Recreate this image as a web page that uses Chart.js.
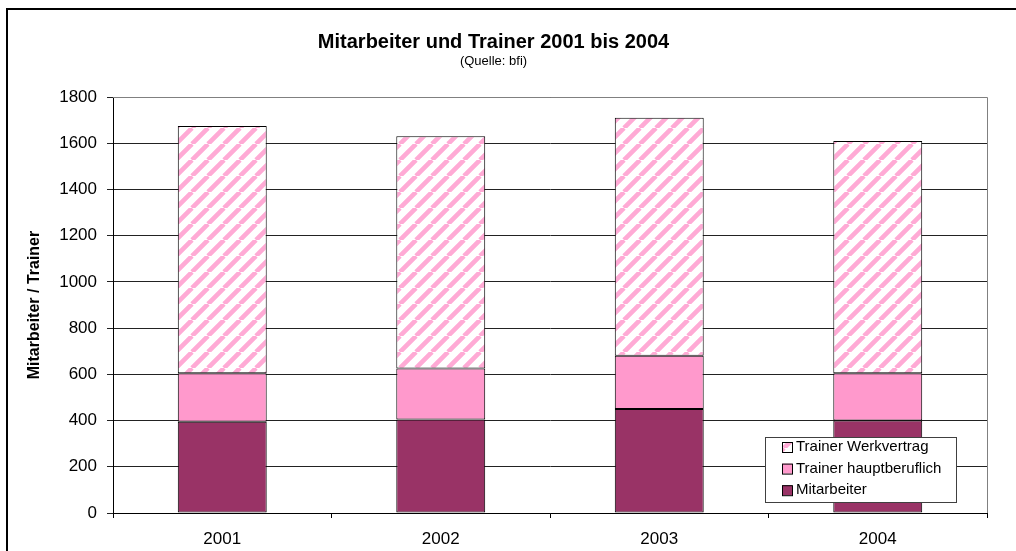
<!DOCTYPE html>
<html>
<head>
  <meta charset="utf-8">
  <title>Mitarbeiter und Trainer</title>
  <script src="https://cdn.jsdelivr.net/npm/chart.js"></script>
  <style>
    html, body { margin: 0; padding: 0; background: #fff; }
    #wrap { width: 1016px; height: 551px; }
  </style>
</head>
<body>
<div id="wrap"><canvas id="chart" width="1016" height="551"></canvas></div>

<script>
// values
var years = ['2001', '2002', '2003', '2004'];
var mitarbeiter = [395, 405, 450, 400];
var trainerHaupt = [210, 220, 230, 205];
var trainerWerk = [1070, 1005, 1030, 1005];
var yTicks = [0, 200, 400, 600, 800, 1000, 1200, 1400, 1600, 1800];

var FONT = "Arial, 'Liberation Sans', sans-serif";

// diagonal pink hatch like excel's "wide upward diagonal"
function hatch() {
  var s = 16;
  var c = document.createElement('canvas');
  c.width = s; c.height = s;
  var g = c.getContext('2d');
  g.fillStyle = '#ffffff';
  g.fillRect(0, 0, s, s);
  g.strokeStyle = '#ffaad5';
  g.lineWidth = 4.6;
  g.beginPath();
  for (var k = -1; k <= 1; k++) {
    g.moveTo(k * s, s);
    g.lineTo(k * s + s, 0);
  }
  g.stroke();
  return g.createPattern(c, 'repeat');
}
var hatchFill = hatch();

// white bg, outer frame, grey plot frame
var frame = {
  id: 'frame',
  beforeDraw: function(chart) {
    var ctx = chart.ctx;
    ctx.save();
    ctx.fillStyle = '#fff';
    ctx.fillRect(0, 0, chart.width, chart.height);
    ctx.strokeStyle = '#000';
    ctx.lineWidth = 2;
    ctx.strokeRect(7, 9, chart.width + 20, chart.height + 20);
    ctx.restore();
  },
  beforeDatasetsDraw: function(chart) {
    var a = chart.chartArea, ctx = chart.ctx;
    ctx.save();
    ctx.strokeStyle = '#808080';
    ctx.lineWidth = 1;
    ctx.beginPath();
    ctx.moveTo(a.left, a.top + 0.5);
    ctx.lineTo(a.right + 0.5, a.top + 0.5);
    ctx.lineTo(a.right + 0.5, a.bottom);
    ctx.stroke();
    ctx.restore();
  }
};

// legend box in the lower right of the plot, reversed order like excel
var boxLegend = {
  id: 'boxLegend',
  afterDatasetsDraw: function(chart) {
    var a = chart.chartArea, ctx = chart.ctx;
    var x = a.right - 222, y = a.bottom - 76, w = 191, h = 65;
    ctx.save();
    ctx.fillStyle = '#fff';
    ctx.fillRect(x, y, w, h);
    ctx.strokeStyle = '#404040';
    ctx.lineWidth = 1;
    ctx.strokeRect(x + 0.5, y + 0.5, w, h);
    ctx.font = '15px ' + FONT;
    ctx.textBaseline = 'middle';
    var ds = chart.data.datasets.slice().reverse();
    ds.forEach(function(d, i) {
      var cy = y + 10 + i * 21.6;
      ctx.fillStyle = d.backgroundColor;
      ctx.fillRect(x + 17, cy - 5, 10, 10);
      ctx.strokeStyle = '#000';
      ctx.strokeRect(x + 17.5, cy - 4.5, 10, 10);
      ctx.fillStyle = '#000';
      ctx.fillText(d.label, x + 31, cy);
    });
    ctx.restore();
  }
};

var chart = new Chart(document.getElementById('chart'), {
  type: 'bar',
  data: {
    labels: years,
    datasets: [
      { label: 'Mitarbeiter', data: mitarbeiter, backgroundColor: '#993366' },
      { label: 'Trainer hauptberuflich', data: trainerHaupt, backgroundColor: '#ff99cc' },
      { label: 'Trainer Werkvertrag', data: trainerWerk, backgroundColor: hatchFill }
    ]
  },
  options: {
    responsive: false,
    animation: false,
    layout: { padding: { left: 0, right: 29, top: 0, bottom: 0 } },
    datasets: {
      bar: {
        borderColor: '#000',
        borderWidth: 1,
        borderSkipped: false,
        categoryPercentage: 1,
        barPercentage: 0.407
      }
    },
    plugins: {
      legend: { display: false },
      tooltip: { enabled: false },
      title: {
        display: true,
        text: 'Mitarbeiter und Trainer 2001 bis 2004',
        color: '#000',
        font: { family: FONT, size: 20, weight: 'bold' },
        padding: { top: 30, bottom: 0 }
      },
      subtitle: {
        display: true,
        text: '(Quelle: bfi)',
        color: '#000',
        font: { family: FONT, size: 13 },
        padding: { top: 0, bottom: 27.4 }
      }
    },
    scales: {
      x: {
        stacked: true,
        offset: true,
        grid: { display: true, drawOnChartArea: false, offset: true, color: '#000', tickLength: 5 },
        border: { color: '#000' },
        ticks: { color: '#000', font: { family: FONT, size: 17 }, padding: 11 },
        afterFit: function(s) { s.height = 38; }
      },
      y: {
        stacked: true,
        min: 0,
        max: 1800,
        afterBuildTicks: function(s) { s.ticks = yTicks.map(function(v) { return { value: v }; }); },
        grid: { color: '#222', tickLength: 6 },
        border: { color: '#000' },
        ticks: {
          color: '#000',
          font: { family: FONT, size: 17 },
          padding: 10,
          callback: function(v) { return String(v); }
        },
        title: {
          display: true,
          text: 'Mitarbeiter / Trainer',
          color: '#000',
          font: { family: FONT, size: 16, weight: 'bold' },
          padding: { top: 25, bottom: 0 }
        },
        afterFit: function(s) { s.width = 113; }
      }
    }
  },
  plugins: [frame, boxLegend]
});
</script>
</body>
</html>
